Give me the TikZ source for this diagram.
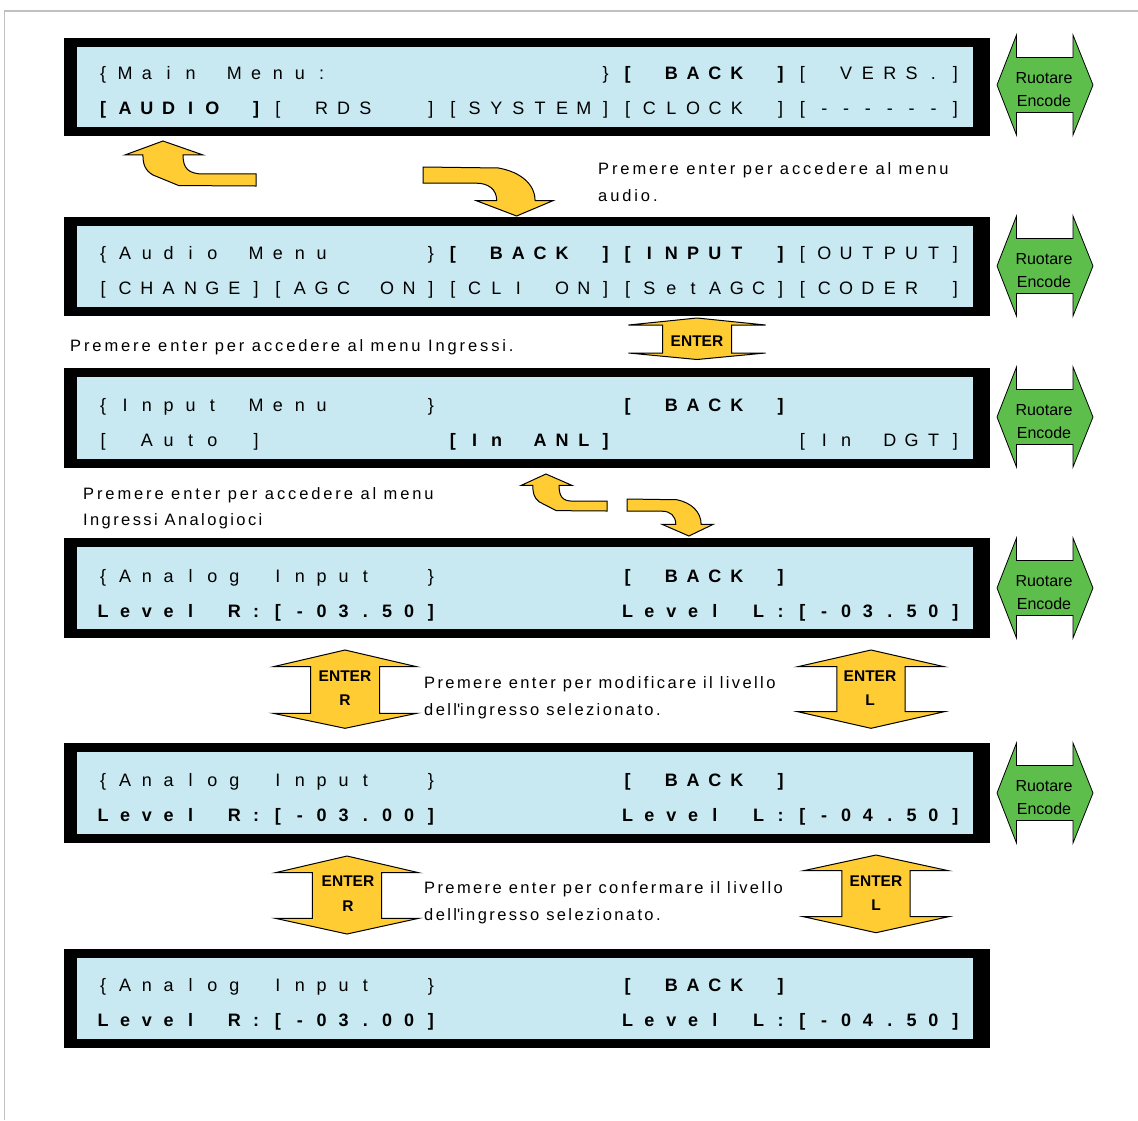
\documentclass[tikz,border=0pt]{standalone}
\usepackage{fontspec}
\setmainfont{Liberation Sans}
\newfontfamily\lblfont[LetterSpace=17.5]{Liberation Sans}
\newfontfamily\lblfontb[LetterSpace=14.5]{Liberation Sans}
\definecolor{lcdblue}{RGB}{200,233,242}
\definecolor{arrowyellow}{RGB}{255,204,51}
\definecolor{encgreen}{RGB}{94,190,76}
\definecolor{framegray}{RGB}{192,192,192}
\newlength\cellw
\setlength\cellw{21.85pt}
\def\lcdEnd{lcdEnd-marker}
\def\lcdB{lcdB-marker}
\def\lcdN{lcdN-marker}
\def\lcdloop#1{%
  \ifx#1\lcdEnd \let\lcdnext\relax
  \else
    \ifx#1\lcdB \bfseries
    \else\ifx#1\lcdN \mdseries
    \else \makebox[\cellw]{\ifx#1*\else#1\fi}%
    \fi\fi
    \let\lcdnext\lcdloop
  \fi\lcdnext}
\newcommand\lcd[1]{\lcdloop#1\lcdEnd}
\newcommand\lcdfont{\fontsize{18}{20}\selectfont}
\newcommand\screenbox[3]{%
  \node[fill=black, inner sep=0pt, minimum width=926pt, minimum height={(#3-#2)*1pt}, anchor=north west] (#1) at (64,#2) {};
  \fill[lcdblue] (77,#2+8.5) rectangle (973,#3-9);}
\newcommand\encarrow[2]{%
  \draw[garrow] (997,#2) -- (1016.5,#2-50) -- (1016.5,#2-27.5) -- (1073,#2-27.5) -- (1073,#2-50) -- (1093,#2) -- (1073,#2+50) -- (1073,#2+27.5) -- (1016.5,#2+27.5) -- (1016.5,#2+50) -- cycle;
  \node[enc] (#1r) at (1044,#2-7) {Ruotare};
  \node[enc] (#1e) at (1044,#2+16) {Encode};}
\newcommand\udarrow[7]{%
  \draw[yarrow] (#1,#2) -- (#1+#6,#3) -- (#1+#7,#3) -- (#1+#7,#4) -- (#1+#6,#4) -- (#1,#5) -- (#1-#6,#4) -- (#1-#7,#4) -- (#1-#7,#3) -- (#1-#6,#3) -- cycle;}
\tikzset{
  lcdtext/.style={anchor=base west, inner sep=0pt, font=\lcdfont},
  lbl/.style={anchor=base west, inner sep=0pt, font=\lblfont\fontsize{16.5}{20}\selectfont},
  lblb/.style={anchor=base west, inner sep=0pt, font=\lblfontb\fontsize{16.5}{20}\selectfont},
  entertxt/.style={inner sep=0pt, font=\bfseries\fontsize{15.5}{18}\selectfont},
  yarrow/.style={fill=arrowyellow, draw=black, line width=1pt, line join=miter},
  garrow/.style={fill=encgreen, draw=black, line width=0.8pt},
  enc/.style={inner sep=0pt, font=\fontsize{16}{18}\selectfont}
}
\begin{document}
\begin{tikzpicture}[x=1pt, y=-1pt]
\useasboundingbox (0,0) rectangle (1138,1120);
\fill[white] (0,0) rectangle (1138,1120);
\draw[framegray, line width=1.5pt] (4.5,1120) -- (4.5,11) -- (1138,11);

% screens
\screenbox{s1}{38}{136}
\screenbox{s2}{217}{316}
\screenbox{s3}{368}{468}
\screenbox{s4}{538}{638}
\screenbox{s5}{743}{843}
\screenbox{s6}{949}{1048}

% screen texts
\node[lcdtext] (t1a) at (92.075,79.4) {\lcd{\{Main*Menu:************\}\lcdB[*BACK*]\lcdN[*VERS.]}};
\node[lcdtext] (t1b) at (92.075,114.4) {\lcd{\lcdB[AUDIO*]\lcdN[*RDS**][SYSTEM][CLOCK*][------]}};
\node[lcdtext] (t2a) at (92.075,259.4) {\lcd{\{Audio*Menu****\}\lcdB[*BACK*][INPUT*]\lcdN[OUTPUT]}};
\node[lcdtext] (t2b) at (92.075,294.4) {\lcd{[CHANGE][AGC*ON][CLI*ON][SetAGC][CODER*]}};
\node[lcdtext] (t3a) at (92.075,411.4) {\lcd{\{Input*Menu****\}********\lcdB[*BACK*]}};
\node[lcdtext] (t3b) at (92.075,446.4) {\lcd{[*Auto*]********\lcdB[In*ANL]\lcdN********[In*DGT]}};
\node[lcdtext] (t4a) at (92.075,582.4) {\lcd{\{Analog*Input**\}********\lcdB[*BACK*]}};
\node[lcdtext] (t4b) at (92.075,617.4) {\lcd{\lcdB Level*R:[-03.50]********Level*L:[-03.50]}};
\node[lcdtext] (t5a) at (92.075,786.4) {\lcd{\{Analog*Input**\}********\lcdB[*BACK*]}};
\node[lcdtext] (t5b) at (92.075,821.4) {\lcd{\lcdB Level*R:[-03.00]********Level*L:[-04.50]}};
\node[lcdtext] (t6a) at (92.075,991.4) {\lcd{\{Analog*Input**\}********\lcdB[*BACK*]}};
\node[lcdtext] (t6b) at (92.075,1026.4) {\lcd{\lcdB Level*R:[-03.00]********Level*L:[-04.50]}};

% encoder arrows
\encarrow{g1}{85}
\encarrow{g2}{266}
\encarrow{g3}{417}
\encarrow{g4}{588}
\encarrow{g5}{793}

% curved arrows
\begin{scope}[shift={(125,141)}, x=131pt, y=-45pt]
\draw[yarrow] (0.29,0) -- (0.595,0.31) -- (0.443,0.31) .. controls (0.443,0.6) and (0.48,0.733) .. (0.6,0.733) -- (1,0.733) -- (1,1) -- (0.41,0.99) -- (0.214,0.756) .. controls (0.15,0.65) and (0.137,0.5) .. (0.137,0.31) -- (0,0.31) -- cycle;
\end{scope}
\begin{scope}[shift={(423,167)}, x=130pt, y=-49pt]
\draw[yarrow] (0,0) -- (0.58,0.02) .. controls (0.75,0.1) and (0.862,0.35) .. (0.862,0.687) -- (1,0.687) -- (0.72,1) -- (0.41,0.687) -- (0.567,0.687) .. controls (0.567,0.45) and (0.5,0.33) .. (0.41,0.33) -- (0,0.33) -- cycle;
\end{scope}
\begin{scope}[shift={(521,474)}, x=86pt, y=-37pt]
\draw[yarrow] (0.29,0) -- (0.595,0.31) -- (0.443,0.31) .. controls (0.443,0.6) and (0.48,0.733) .. (0.6,0.733) -- (1,0.733) -- (1,1) -- (0.41,0.99) -- (0.214,0.756) .. controls (0.15,0.65) and (0.137,0.5) .. (0.137,0.31) -- (0,0.31) -- cycle;
\end{scope}
\begin{scope}[shift={(627,499)}, x=86pt, y=-37pt]
\draw[yarrow] (0,0) -- (0.58,0.02) .. controls (0.75,0.1) and (0.862,0.35) .. (0.862,0.687) -- (1,0.687) -- (0.72,1) -- (0.41,0.687) -- (0.567,0.687) .. controls (0.567,0.45) and (0.5,0.33) .. (0.41,0.33) -- (0,0.33) -- cycle;
\end{scope}

% ENTER arrows
\udarrow{697}{318}{325}{353}{359.5}{68.5}{34.5}
\node[entertxt] (e1) at (697,341) {ENTER};
\udarrow{345}{650}{666.7}{713.3}{728.3}{71.7}{34.5}
\node[entertxt] (e2a) at (345,676) {ENTER};
\node[entertxt] (e2b) at (345,700) {R};
\udarrow{871}{650}{666.7}{711.7}{728.3}{73.3}{34.2}
\node[entertxt] (e3a) at (870,676) {ENTER};
\node[entertxt] (e3b) at (870,700) {L};
\udarrow{347}{856}{872.7}{918.3}{934}{71.7}{34.7}
\node[entertxt] (e4a) at (348,881) {ENTER};
\node[entertxt] (e4b) at (348,906) {R};
\udarrow{876}{855}{870.7}{916.7}{932.7}{72.5}{34.2}
\node[entertxt] (e5a) at (876,881) {ENTER};
\node[entertxt] (e5b) at (876,905) {L};

% labels
\node[lbl] (l1a) at (598,174) {Premere enter per accedere al menu};
\node[lbl] (l1b) at (598,201) {audio.};
\node[lbl] (l2) at (70,351) {Premere enter per accedere al menu Ingressi.};
\node[lbl] (l3a) at (83,499) {Premere enter per accedere al menu};
\node[lblb] (l3b) at (83,525) {Ingressi Analogioci};
\node[lblb] (l4a) at (424,688) {Premere enter per modificare il livello};
\node[lblb] (l4b) at (424,715) {dell\textquotesingle ingresso selezionato.};
\node[lblb] (l5a) at (424,893) {Premere enter per confermare il livello};
\node[lblb] (l5b) at (424,920) {dell\textquotesingle ingresso selezionato.};
\end{tikzpicture}
\end{document}
